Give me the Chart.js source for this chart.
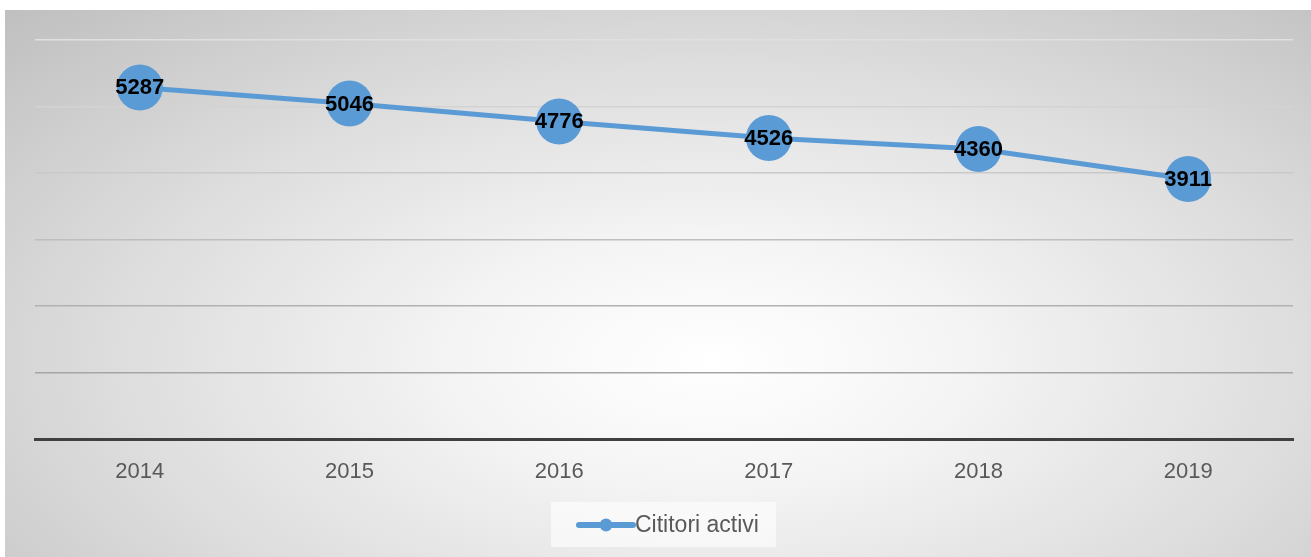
<!DOCTYPE html>
<html>
<head>
<meta charset="utf-8">
<script src="https://cdn.jsdelivr.net/npm/chart.js@4"></script>
<style>
  html, body { margin: 0; padding: 0; background: #fff; }
  #cadru {
    position: absolute; left: 5px; top: 10px; width: 1306px; height: 547px;
    background: radial-gradient(ellipse farthest-corner at 54% 64%, #ffffff 0%, #f5f5f5 24%, #dddddd 60%, #bfbfbf 100%);
  }
</style>
</head>
<body>
<div id="cadru"><canvas id="grafic" width="1306" height="547"></canvas></div>
<script>
// ---- Date ----
const ani = ['2014', '2015', '2016', '2017', '2018', '2019'];
const cititoriActivi = [5287, 5046, 4776, 4526, 4360, 3911];
const numeSerie = 'Cititori activi';

const culoareSerie = '#5b9bd5';
// culori linii de grila, de sus (6000) spre jos (1000)
const culoriGrila = { 6000: '#e0e0e0', 5000: '#d3d3d3', 4000: '#c9c9c9', 3000: '#bebebe', 2000: '#b1b1b1', 1000: '#a5a5a5' };

// ---- Etichete de date ----
const eticheteDate = {
  id: 'eticheteDate',
  afterDatasetsDraw(chart) {
    const ctx = chart.ctx;
    const meta = chart.getDatasetMeta(0);
    ctx.save();
    ctx.font = 'bold 22px "Liberation Sans", Arial, sans-serif';
    ctx.fillStyle = '#000';
    ctx.textAlign = 'center';
    ctx.textBaseline = 'middle';
    meta.data.forEach((p, i) => {
      ctx.fillText(chart.data.datasets[0].data[i], p.x, p.y + 1);
    });
    ctx.restore();
  }
};

// ---- Legenda (stil Excel) ----
const legendaExcel = {
  id: 'legendaExcel',
  afterDraw(chart) {
    const ctx = chart.ctx;
    const cx = 658, cy = 515;
    ctx.save();
    ctx.fillStyle = 'rgba(255,255,255,0.6)';
    ctx.fillRect(cx - 112, cy - 23, 225, 45);
    ctx.strokeStyle = culoareSerie;
    ctx.lineWidth = 6;
    ctx.lineCap = 'round';
    ctx.beginPath();
    ctx.moveTo(cx - 84, cy);
    ctx.lineTo(cx - 30, cy);
    ctx.stroke();
    ctx.fillStyle = culoareSerie;
    ctx.beginPath();
    ctx.arc(cx - 57, cy, 6.5, 0, Math.PI * 2);
    ctx.fill();
    ctx.font = '23px "Liberation Sans", Arial, sans-serif';
    ctx.fillStyle = '#595959';
    ctx.textAlign = 'left';
    ctx.textBaseline = 'middle';
    ctx.fillText(chart.data.datasets[0].label, cx - 28, cy + 1);
    ctx.restore();
  }
};

new Chart(document.getElementById('grafic'), {
  type: 'line',
  data: {
    labels: ani,
    datasets: [{
      label: numeSerie,
      data: cititoriActivi,
      borderColor: culoareSerie,
      backgroundColor: culoareSerie,
      borderWidth: 5,
      pointRadius: 23,
      pointHoverRadius: 23,
      pointBorderWidth: 0,
      tension: 0
    }]
  },
  options: {
    responsive: false,
    animation: false,
    devicePixelRatio: 1,
    layout: { autoPadding: false, padding: { left: 30, right: 18, top: 30, bottom: 0 } },
    plugins: { legend: { display: false }, tooltip: { enabled: false } },
    scales: {
      x: {
        offset: true,
        grid: { display: false, drawTicks: false },
        border: { display: true, color: '#404040', width: 3 },
        ticks: { color: '#595959', padding: 20, maxRotation: 0, font: { family: '"Liberation Sans", Arial, sans-serif', size: 22 } },
        afterFit: s => { s.height = 118; s.paddingLeft = 0; s.paddingRight = 0; }
      },
      y: {
        min: 0, max: 6000,
        ticks: { display: false, stepSize: 1000 },
        border: { display: false },
        grid: {
          drawTicks: false,
          color: c => c.tick.value === 0 ? 'rgba(0,0,0,0)' : culoriGrila[c.tick.value],
          lineWidth: 1.5
        },
        afterFit: s => { s.width = 0; }
      }
    }
  },
  plugins: [eticheteDate, legendaExcel]
});
</script>
</body>
</html>
